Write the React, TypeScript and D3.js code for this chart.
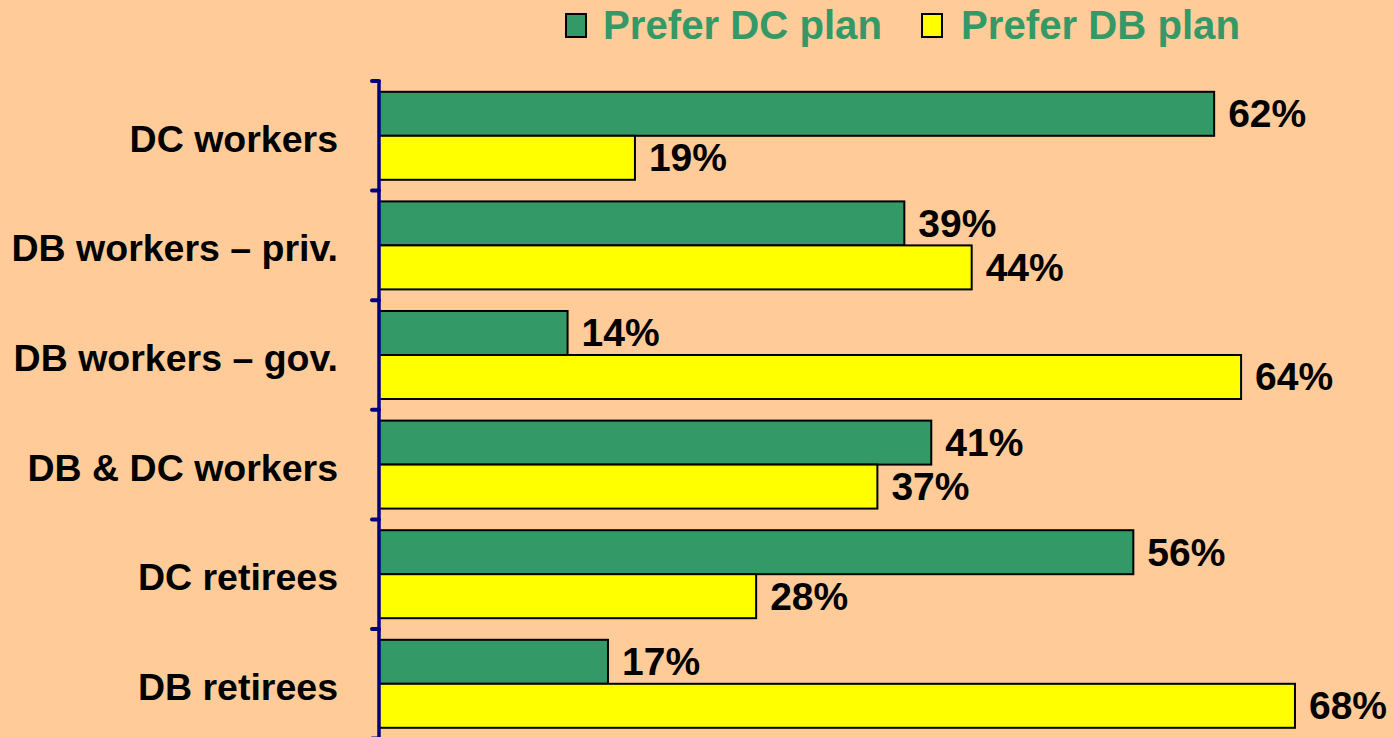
import React from "react";
import * as d3 from "d3";

const categories = [
  "DC workers",
  "DB workers – priv.",
  "DB workers – gov.",
  "DB & DC workers",
  "DC retirees",
  "DB retirees",
];
const seriesNames = ["Prefer DC plan", "Prefer DB plan"];
const preferDC = [62, 39, 14, 41, 56, 17];
const preferDB = [19, 44, 64, 37, 28, 68];
const seriesColors = ["#339966", "#FFFF00"];

const W = 1394;
const H = 737;
const FONT = "'Liberation Sans', Arial, Helvetica, sans-serif";

export default function App() {
  const x = d3.scaleLinear().domain([0, 100]).range([379, 379 + 1347]);
  const y = d3.scaleBand<string>().domain(categories).range([81, 81 + 6 * 109.6]).padding(0);
  const inner = d3
    .scaleBand<string>()
    .domain(seriesNames)
    .range([0, y.bandwidth()])
    .paddingInner(0)
    .paddingOuter(0.2455);
  const values = [preferDC, preferDB];

  const legendItems = [
    { name: seriesNames[0], color: seriesColors[0], sx: 566, tx: 603 },
    { name: seriesNames[1], color: seriesColors[1], sx: 922, tx: 961 },
  ];

  return (
    <svg
      width={W}
      height={H}
      style={{ position: "absolute", left: 0, top: 0, display: "block" }}
      fontFamily={FONT}
    >
      <rect x={0} y={0} width={W} height={H} fill="#FFCC99" />
      {/* legend */}
      {legendItems.map((l) => (
        <g key={l.name}>
          <rect x={l.sx} y={14} width={20} height={23} fill={l.color} stroke="#000" strokeWidth={2} />
          <text
            x={l.tx}
            y={39}
            fontSize={40}
            fontWeight="bold"
            fill="#339966"
            textLength={279}
            lengthAdjust="spacingAndGlyphs"
          >
            {l.name}
          </text>
        </g>
      ))}
      {/* bars */}
      {categories.map((c, i) => (
        <g key={c} transform={`translate(0,${y(c)})`}>
          {seriesNames.map((s, j) => {
            const v = values[j][i];
            const by = inner(s)!;
            const bh = inner.bandwidth();
            return (
              <g key={s}>
                <rect
                  x={x(0)}
                  y={by}
                  width={x(v) - x(0)}
                  height={bh}
                  fill={seriesColors[j]}
                  stroke="#000"
                  strokeWidth={2}
                />
                <text
                  x={x(v) + 14}
                  y={by + bh / 2 + 13.5}
                  fontSize={39}
                  fontWeight="bold"
                  fill="#000"
                >
                  {v}%
                </text>
              </g>
            );
          })}
          <text
            x={338}
            y={y.bandwidth() / 2 + 16}
            fontSize={37.5}
            fontWeight="bold"
            textAnchor="end"
            fill="#000"
          >
            {c}
          </text>
        </g>
      ))}
      {/* axis */}
      <line x1={x(0)} x2={x(0)} y1={81} y2={H + 5} stroke="#000080" strokeWidth={3.5} />
      {d3.range(categories.length + 1).map((k) => {
        const ty = 81 + k * y.step();
        return (
          <line
            key={k}
            x1={x(0) - 7}
            x2={x(0)}
            y1={ty}
            y2={ty}
            stroke="#000080"
            strokeWidth={4}
            strokeLinecap="round"
          />
        );
      })}
    </svg>
  );
}
